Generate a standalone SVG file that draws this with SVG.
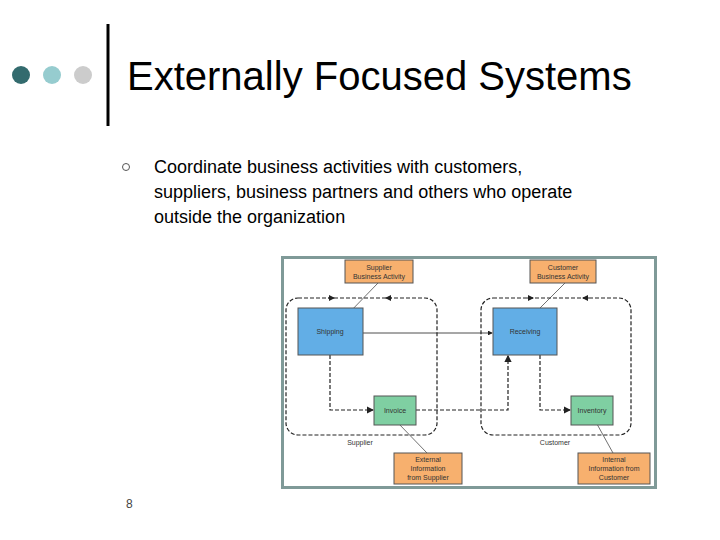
<svg xmlns="http://www.w3.org/2000/svg" width="720" height="540" viewBox="0 0 720 540">
<style>
text{font-family:"Liberation Sans",Arial,sans-serif}
.s{font-size:7px;fill:#333;text-anchor:middle}
.o{fill:#f7b06e;stroke:#555;stroke-width:1}
.b{fill:#62aee6;stroke:#555;stroke-width:1}
.g{fill:#7fcfa2;stroke:#555;stroke-width:1}
.d{fill:none;stroke:#222;stroke-width:1.2;stroke-dasharray:4 2}
.l{stroke:#333;stroke-width:0.7;fill:none}
</style>
<defs><marker id="a" markerWidth="6" markerHeight="6" refX="5" refY="3" orient="auto"><path d="M0,0L6,3L0,6z" fill="#222"/></marker></defs>
<rect width="720" height="540" fill="#fff"/>
<circle cx="21" cy="75" r="9" fill="#336b6e"/>
<circle cx="52" cy="75" r="9" fill="#96cccf"/>
<circle cx="83" cy="75" r="9" fill="#cccccc"/>
<line x1="108" y1="24" x2="108" y2="126" stroke="#000" stroke-width="3"/>
<text x="127" y="90" font-size="40">Externally Focused Systems</text>
<circle cx="126" cy="167" r="3.5" fill="none" stroke="#555" stroke-width="1"/>
<text font-size="18"><tspan x="154" y="173">Coordinate business activities with customers,</tspan><tspan x="154" y="198">suppliers, business partners and others who operate</tspan><tspan x="154" y="223">outside the organization</tspan></text>
<text x="126" y="508" font-size="12" fill="#444">8</text>
<rect x="282.5" y="257.5" width="373" height="230" fill="#fff" stroke="#7f9a98" stroke-width="3"/>
<g id="connectors">
<rect class="d" x="286" y="298" width="151" height="137" rx="12"/>
<rect class="d" x="481" y="298" width="150" height="137" rx="12"/>
<path d="M328,298h6" stroke="#222" marker-end="url(#a)"/>
<path d="M392,298h-6" stroke="#222" marker-end="url(#a)"/>
<path d="M527,298h6" stroke="#222" marker-end="url(#a)"/>
<path d="M589,298h-6" stroke="#222" marker-end="url(#a)"/>
<path d="M363,333H492" stroke="#222" stroke-width="0.8" marker-end="url(#a)"/>
<path class="d" d="M330,355V410H373" marker-end="url(#a)"/>
<path class="d" d="M416,410H508V356" marker-end="url(#a)"/>
<path class="d" d="M540,355V410H570" marker-end="url(#a)"/>
<path class="l" d="M378,283L347,315M565,283L533,315M398,423L427,453M592,415L613,453"/>
</g>
<g id="supplierBA"><rect class="o" x="345" y="260" width="68" height="23"/><text class="s" x="379" y="270">Supplier</text><text class="s" x="379" y="279">Business Activity</text></g>
<g id="customerBA"><rect class="o" x="530" y="260" width="66" height="23"/><text class="s" x="563" y="270">Customer</text><text class="s" x="563" y="279">Business Activity</text></g>
<g id="shipping"><rect class="b" x="298" y="308" width="65" height="47"/><text class="s" x="330" y="334">Shipping</text></g>
<g id="receiving"><rect class="b" x="493" y="308" width="64" height="47"/><text class="s" x="525" y="334">Receiving</text></g>
<g id="invoice"><rect class="g" x="374" y="396" width="42" height="29"/><text class="s" x="395" y="413">Invoice</text></g>
<g id="inventory"><rect class="g" x="571" y="396" width="42" height="29"/><text class="s" x="592" y="413">Inventory</text></g>
<g id="external"><rect class="o" x="394" y="453" width="68" height="31"/><text class="s" x="428" y="462">External</text><text class="s" x="428" y="471">Information</text><text class="s" x="428" y="480">from Supplier</text></g>
<g id="internal"><rect class="o" x="578" y="453" width="72" height="31"/><text class="s" x="614" y="462">Internal</text><text class="s" x="614" y="471">Information from</text><text class="s" x="614" y="480">Customer</text></g>
<text class="s" x="360" y="445">Supplier</text>
<text class="s" x="555" y="445">Customer</text>
</svg>
